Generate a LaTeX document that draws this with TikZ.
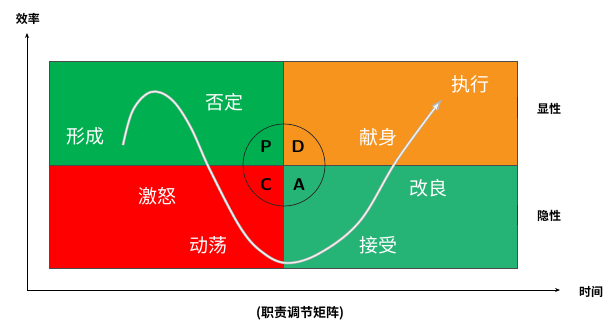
\documentclass[tikz,border=0pt]{standalone}
\usepackage{fontspec}
\newfontfamily\cjk{Noto Sans CJK SC}
\newfontfamily\cjkb{Noto Sans CJK SC Bold}
\usetikzlibrary{arrows.meta}
\definecolor{qgreen}{HTML}{00B050}
\definecolor{qorange}{HTML}{F7941D}
\definecolor{qred}{HTML}{FF0000}
\definecolor{qteal}{HTML}{26B476}
\begin{document}
\begin{tikzpicture}[x=1pt,y=-1pt,
  qlabel/.style={text=white,font=\cjk\fontsize{19}{19}\selectfont,inner sep=0pt},
  axlabel/.style={text=black,font=\cjkb\fontsize{12}{12}\selectfont,inner sep=0pt},
  pdca/.style={text=black,font=\sffamily\bfseries\fontsize{17}{17}\selectfont,inner sep=0pt},
  quad/.style={draw=black!70,line width=0.6pt},
  tick/.style={draw=black!80,line width=1pt}]
\useasboundingbox (0,0) rectangle (611,329);
% quadrants
\fill[qgreen] (49,61) rectangle (283,165);
\fill[qorange] (283,61) rectangle (517,165);
\fill[qred] (49,165) rectangle (283,268);
\fill[qteal] (283,165) rectangle (517,268);
\draw[quad] (49,61) rectangle (517,268);
\draw[quad] (49,165) -- (517,165);
\draw[quad] (283,61) -- (283,268);
% right ticks
\draw[tick] (517,97) -- (517,118);
\draw[tick] (517,205) -- (517,225);
% axes
\coordinate (o) at (27,290);
\coordinate (ytop) at (27,33);
\coordinate (xend) at (560,290);
\draw[line width=0.9pt,-{Stealth[length=5pt,width=4pt]}] (27,290) -- (ytop);
\draw[line width=0.9pt,-{Stealth[length=5pt,width=4pt]}] (o) -- (xend);
\node[axlabel] (yl) at (28,19) {效率};
\node[axlabel] (xl) at (591,292) {时间};
\node[axlabel] (vis) at (549,109) {显性};
\node[axlabel] (hid) at (549,216) {隐性};
\node[text=black,font=\cjkb\fontsize{13}{13}\selectfont,inner sep=0pt] (cap) at (300,313) {(职责调节矩阵)};
% PDCA circle
\node[draw=black!85,line width=0.7pt,circle,minimum size=82pt,inner sep=0pt] (circ) at (284,165) {};
\node[pdca] (P) at (266,147) {P};
\node[pdca] (D) at (298,147) {D};
\node[pdca] (C) at (266,185) {C};
\node[pdca] (A) at (299,185) {A};
% curve
\def\curvepath{plot[smooth,tension=0.6] coordinates {(123,145) (133,110) (151,92) (171,99) (190,126) (210,170) (240,227) (262,252) (287,263) (320,253) (360,221) (397,160) (441,100)}}
\draw[line width=2.6pt,black!30,-{Stealth[length=11pt,width=9pt]}] \curvepath;
\draw[line width=1.3pt,white!95!black,shorten >=4pt,-{Stealth[length=7pt,width=5pt]}] \curvepath;
% quadrant labels
\node[qlabel] (xc) at (85,136) {形成};
\node[qlabel] (fd) at (224,102) {否定};
\node[qlabel] (jn) at (157,196) {激怒};
\node[qlabel] (dd) at (208,245) {动荡};
\node[qlabel] (xs) at (378,137) {献身};
\node[qlabel] (zx) at (470,84) {执行};
\node[qlabel] (gl) at (428,188) {改良};
\node[qlabel] (js) at (378,245) {接受};
\end{tikzpicture}
\end{document}
